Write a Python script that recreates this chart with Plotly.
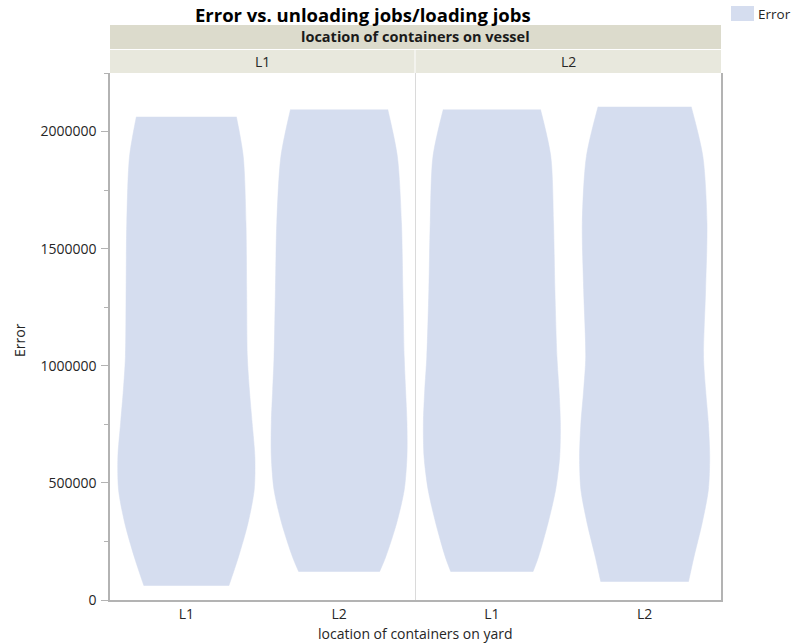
import plotly.graph_objects as go

# Facets: location of containers on vessel; categories: location on yard
vessel_locs = ["L1", "L2"]
yard_locs = ["L1", "L2"]
tick_labels = ["L1", "L2", "L1", "L2"]

# Violin outlines of Error (one per vessel/yard combination, in facet order)
err_min = [61000, 121000, 121000, 78000]
err_max = [2063000, 2094000, 2094000, 2106000]
err_levels = [184000, 329000, 470000, 611000, 756000, 897000,
              1038000, 1325000, 1611000, 1894000]

# relative density at min, each level, and max
density_A = [0.62, 0.76, 0.90, 0.99, 1.00, 0.96, 0.92, 0.89, 0.88, 0.87, 0.83, 0.73]
density_B = [0.59, 0.68, 0.84, 0.95, 0.99, 0.99, 0.97, 0.95, 0.93, 0.91, 0.85, 0.71]
density_C = [0.60, 0.68, 0.82, 0.93, 0.99, 1.00, 0.98, 0.95, 0.92, 0.90, 0.86, 0.71]
density_D = [0.64, 0.72, 0.84, 0.93, 0.95, 0.93, 0.89, 0.86, 0.89, 0.91, 0.85, 0.68]
densities = [density_A, density_B, density_C, density_D]

FILL = "#d5ddef"
AXIS = "#b3b3b3"
TEXT = "#262626"
FONT = "Open Sans"
MAX_HALF = 0.4485  # half-width (category units) of density 1.0

# plot area in pixels
W, H = 794, 643
L, R, T, B = 110, 721, 73, 600


def px_x(x):
    return (x - L) / (R - L)


def px_y(y):
    return (B - y) / (B - T)


fig = go.Figure()

for i, dens in enumerate(densities):
    ys = [err_min[i]] + err_levels + [err_max[i]]
    left = [i - d * MAX_HALF for d in dens]
    right = [i + d * MAX_HALF for d in dens]
    # left edge, then right edge filled back to it: smooth sides, flat ends
    fig.add_trace(go.Scatter(
        x=left, y=ys, mode="lines",
        line=dict(color=FILL, width=0.5, shape="spline", smoothing=0.8),
        hoverinfo="skip", showlegend=False,
    ))
    fig.add_trace(go.Scatter(
        x=right, y=ys, mode="lines", fill="tonexty", fillcolor=FILL,
        line=dict(color=FILL, width=0.5, shape="spline", smoothing=0.8),
        hoverinfo="skip", showlegend=False,
    ))

shapes = []
# facet divider
shapes.append(dict(type="line", xref="x", yref="paper", x0=1.5, x1=1.5,
                   y0=0, y1=1, line=dict(color="#dadada", width=1), layer="below"))
# header: outer facet variable band
shapes.append(dict(type="rect", xref="paper", yref="paper",
                   x0=0, x1=1, y0=px_y(49), y1=px_y(25),
                   fillcolor="#dcdbcc", line=dict(width=0), layer="below"))
# header: facet level cells
for x0, x1 in [(L, 414.5), (415.5, R)]:
    shapes.append(dict(type="rect", xref="paper", yref="paper",
                       x0=px_x(x0), x1=px_x(x1), y0=1, y1=px_y(50),
                       fillcolor="#e8e8dd", line=dict(width=0), layer="below"))
# legend swatch
shapes.append(dict(type="rect", xref="paper", yref="paper",
                   x0=px_x(731), x1=px_x(754), y0=px_y(21), y1=px_y(6),
                   fillcolor=FILL, line=dict(width=0)))

annotations = [
    dict(text="<b>Error vs. unloading jobs/loading jobs</b>", xref="paper", yref="paper",
         x=px_x(363), y=px_y(15), xanchor="center", yanchor="middle", showarrow=False,
         font=dict(family=FONT, size=18.5, color="#000000")),
    dict(text="<b>location of containers on vessel</b>", xref="paper", yref="paper",
         x=0.5, y=px_y(37), xanchor="center", yanchor="middle", showarrow=False,
         font=dict(family=FONT, size=14.5, color="#1a1a1a")),
    dict(text="Error", xref="paper", yref="paper",
         x=px_x(756), y=px_y(13.5), xanchor="left", yanchor="middle", showarrow=False,
         font=dict(family=FONT, size=13.5, color=TEXT)),
    dict(text="location of containers on yard", xref="paper", yref="paper",
         x=0.5, y=px_y(633), xanchor="center", yanchor="middle", showarrow=False,
         font=dict(family=FONT, size=14, color=TEXT)),
    dict(text="Error", xref="paper", yref="paper", textangle=-90,
         x=px_x(19), y=px_y(340), xanchor="center", yanchor="middle", showarrow=False,
         font=dict(family=FONT, size=14, color=TEXT)),
]
for j, loc in enumerate(vessel_locs):
    annotations.append(dict(text=loc, xref="x", yref="paper", x=0.5 + 2 * j,
                            y=px_y(61), xanchor="center", yanchor="middle",
                            showarrow=False, font=dict(family=FONT, size=14, color=TEXT)))

fig.update_layout(
    width=W, height=H,
    margin=dict(l=L, r=W - R, t=T, b=H - B, pad=0),
    paper_bgcolor="white", plot_bgcolor="white",
    font=dict(family=FONT, size=14, color=TEXT),
    showlegend=False,
    shapes=shapes, annotations=annotations,
    xaxis=dict(range=[-0.5, 3.5], tickvals=[0, 1, 2, 3], ticktext=tick_labels,
               showgrid=False, zeroline=False, showline=True, linecolor=AXIS,
               linewidth=1.5, ticks="", ticklabelstandoff=0, fixedrange=True,
               tickfont=dict(size=14)),
    yaxis=dict(range=[0, 2250000], dtick=500000, tickformat="d",
               showgrid=False, zeroline=False, showline=True, linecolor=AXIS,
               linewidth=1.5, mirror=True, ticks="outside", ticklen=7,
               tickcolor=AXIS, tickwidth=1, ticklabelstandoff=2,
               tickfont=dict(size=14),
               minor=dict(dtick=250000, ticks="outside", ticklen=4,
                          tickcolor=AXIS, tickwidth=1),
               fixedrange=True),
)

fig.write_html("out.html")
